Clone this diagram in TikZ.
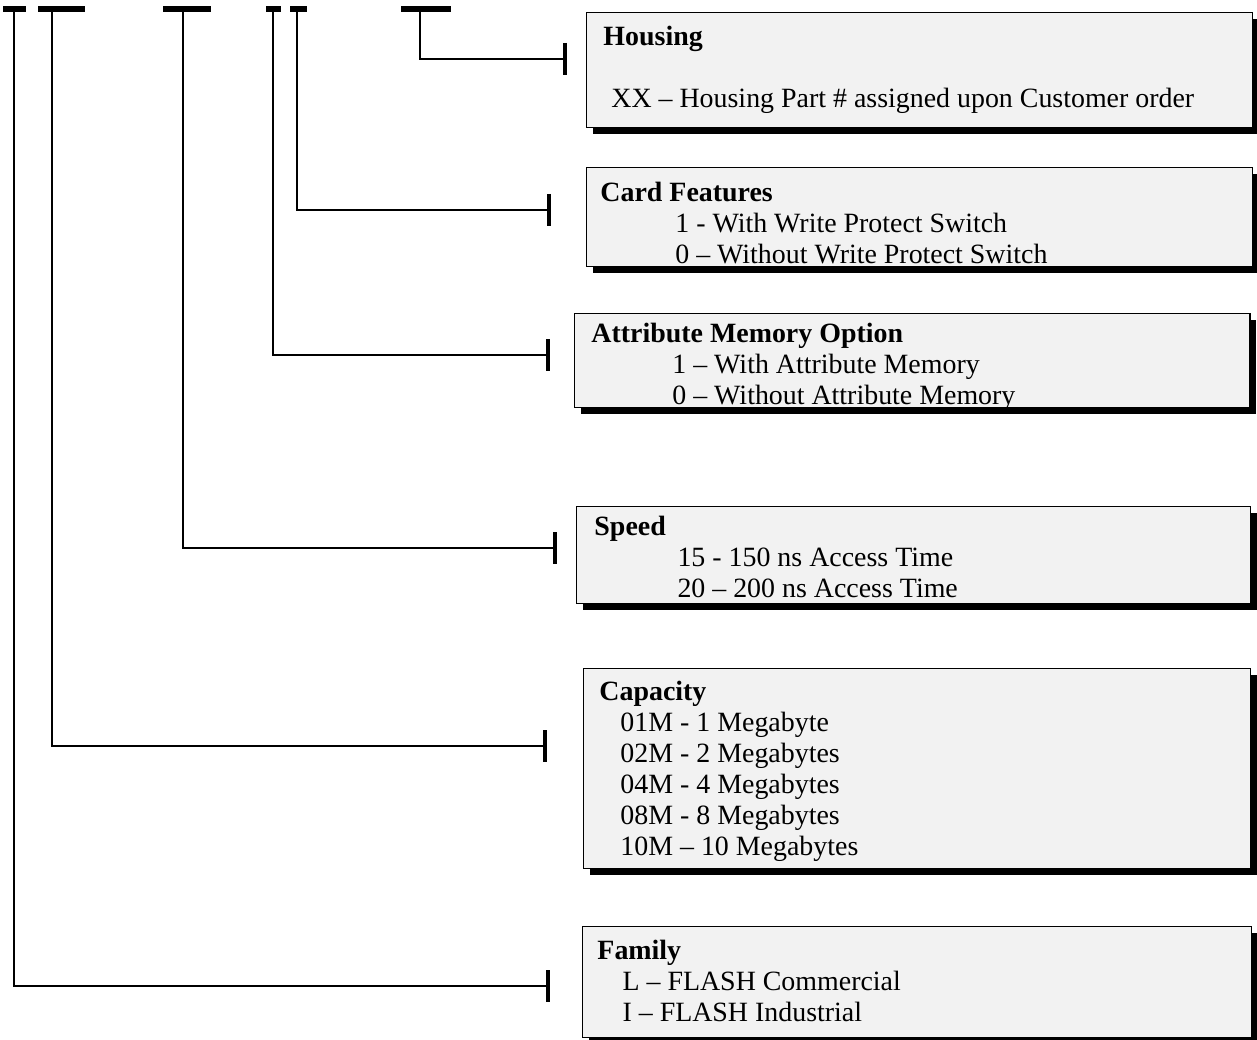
\documentclass[tikz,border=0pt]{standalone}
\usepackage{fontspec}
\setmainfont{Liberation Serif}
\usetikzlibrary{shadows}
\definecolor{boxgray}{HTML}{F2F2F2}
\tikzstyle{optbox} = [rectangle, anchor=north west, inner sep=0pt, draw=black, line width=0.6pt, fill=boxgray, drop shadow={shadow xshift=2.6pt, shadow yshift=-2.6pt, fill=black, opacity=1}]
\tikzstyle{optext} = [anchor=north west, inner sep=0pt, align=left, font=\fontsize{12}{13.3}\selectfont]
\tikzstyle{digit} = [line width=2.2pt]
\tikzstyle{lead} = [line width=0.9pt]
\tikzstyle{stopbar} = [line width=1.8pt]
\newcommand{\ind}[1]{\hspace*{#1}}

\begin{document}
\begin{tikzpicture}[x=0.43pt, y=-0.43pt]
\useasboundingbox (0,0) rectangle (1257,1040);

% digit places of the part number
\coordinate (famTop) at (14,9);
\coordinate (capTop) at (52,9);
\coordinate (spdTop) at (183,9);
\coordinate (attTop) at (273,9);
\coordinate (cardTop) at (297,9);
\coordinate (housTop) at (420,9);
\draw[digit] (3,9) -- (26,9);
\draw[digit] (38,9) -- (85,9);
\draw[digit] (163,9) -- (211,9);
\draw[digit] (266,9) -- (281,9);
\draw[digit] (290,9) -- (307,9);
\draw[digit] (401,9) -- (451,9);

% option boxes
\node (Housing)[optbox, minimum width=286.4pt, minimum height=49.4pt] at (586,12) {};
\node (HousingTxt)[optext] at (603,23.4) {\textbf{Housing}\strut\\ \strut\\ \ind{3.4pt}XX -- Housing Part \# assigned upon Customer order\strut};

\node (Card)[optbox, minimum width=286.4pt, minimum height=42.6pt] at (586,167) {};
\node (CardTxt)[optext] at (600,179.4) {\textbf{Card Features}\strut\\ \ind{32.2pt}1 - With Write Protect Switch\strut\\ \ind{32.2pt}0 -- Without Write Protect Switch\strut};

\node (Attr)[optbox, minimum width=290.3pt, minimum height=40.4pt] at (574,313) {};
\node (AttrTxt)[optext] at (591,320.4) {\textbf{Attribute Memory Option}\strut\\ \ind{34.8pt}1 -- With Attribute Memory\strut\\ \ind{34.8pt}0 -- Without Attribute Memory\strut};

\node (Speed)[optbox, minimum width=289.8pt, minimum height=41.7pt] at (576,506) {};
\node (SpeedTxt)[optext] at (594,513.4) {\textbf{Speed}\strut\\ \ind{35.7pt}15 - 150 ns Access Time\strut\\ \ind{35.7pt}20 -- 200 ns Access Time\strut};

\node (Capacity)[optbox, minimum width=286.8pt, minimum height=86pt] at (583,668) {};
\node (CapacityTxt)[optext] at (599,678.4) {\textbf{Capacity}\strut\\ \ind{9pt}01M - 1 Megabyte\strut\\ \ind{9pt}02M - 2 Megabytes\strut\\ \ind{9pt}04M - 4 Megabytes\strut\\ \ind{9pt}08M - 8 Megabytes\strut\\ \ind{9pt}10M -- 10 Megabytes\strut};

\node (Family)[optbox, minimum width=287.7pt, minimum height=47.7pt] at (582,926) {};
\node (FamilyTxt)[optext] at (597,937.4) {\textbf{Family}\strut\\ \ind{10.8pt}L -- FLASH Commercial\strut\\ \ind{10.8pt}I -- FLASH Industrial\strut};

% leads and end stops
\coordinate (housEnd) at (565,59);
\coordinate (cardEnd) at (549,210);
\coordinate (attEnd) at (548,355);
\coordinate (spdEnd) at (555,548);
\coordinate (capEnd) at (545,746);
\coordinate (famEnd) at (548,986);
\draw[lead] (housTop) |- (housEnd);
\draw[lead] (cardTop) |- (cardEnd);
\draw[lead] (attTop) |- (attEnd);
\draw[lead] (spdTop) |- (spdEnd);
\draw[lead] (capTop) |- (capEnd);
\draw[lead] (famTop) |- (famEnd);
\foreach \e in {housEnd,cardEnd,attEnd,spdEnd,capEnd,famEnd}
  \draw[stopbar] (\e) ++(0,-16) -- ++(0,32);
\end{tikzpicture}
\end{document}
